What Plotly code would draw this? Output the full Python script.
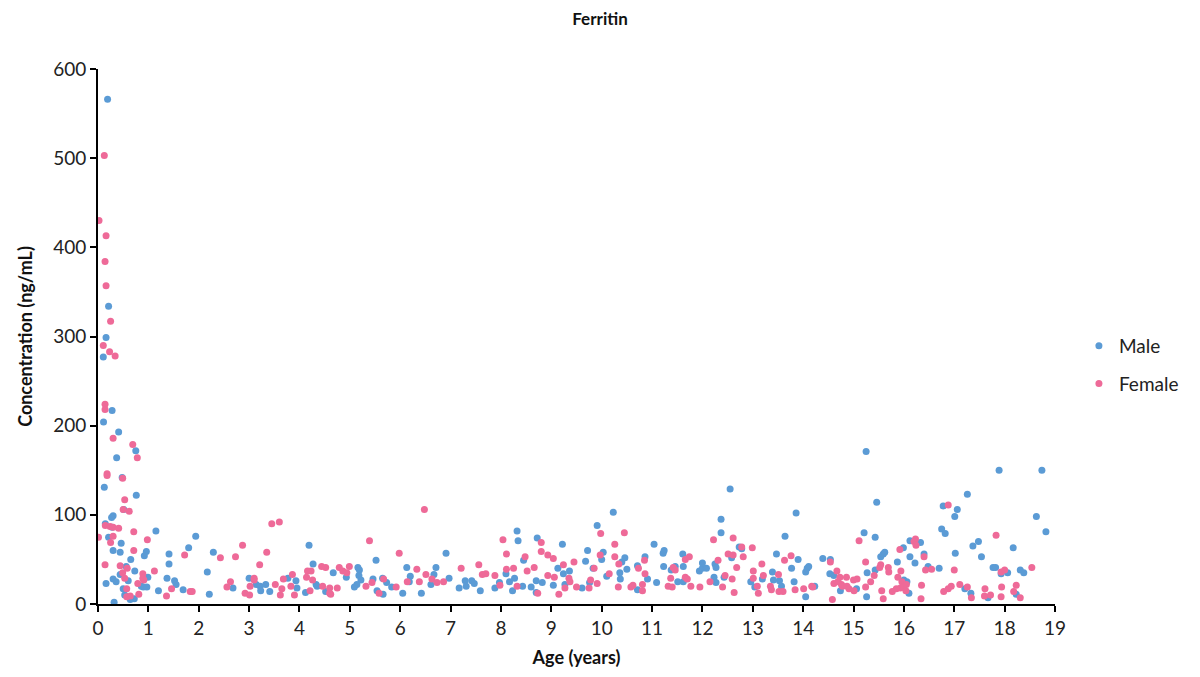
import plotly.graph_objects as go

# ---- data (age in years, concentration in ng/mL) ----
male_age = [0.19, 0.21, 0.16, 0.105, 0.28, 0.11, 0.41, 0.75, 0.37, 0.48, 0.125, 0.76, 0.51, 0.30, 0.27,
            0.145, 0.28, 1.15, 0.21, 1.94, 0.46, 1.80, 0.96, 0.30, 0.44, 1.41, 0.92, 0.65, 1.41, 0.56,
            0.73, 2.17, 0.44, 0.99, 1.37, 0.30, 0.36, 0.60, 1.52, 0.16, 1.55, 0.90, 0.86, 0.50, 0.97,
            1.20, 1.69, 2.21, 0.53, 0.72, 0.64, 0.32,
            2.29, 2.68, 3.00, 3.14, 3.22, 3.23, 3.33, 3.41, 3.77, 3.93, 3.95, 4.12, 4.19, 4.27, 4.33,
            4.35, 4.52, 4.67, 4.93, 5.16, 5.19, 5.18, 5.22, 5.14, 5.09, 5.46, 5.52, 5.54, 5.66, 5.65,
            5.73, 5.83,
            6.05, 6.13, 6.20, 6.18, 6.42, 6.61, 6.67, 6.71, 6.91, 6.97, 7.17, 7.29, 7.31, 7.42, 7.47,
            7.59, 7.88, 7.97, 8.10, 8.17, 8.27, 8.23, 8.32, 8.34, 8.43, 8.45, 8.60, 8.70, 8.70, 8.72,
            8.82, 9.04, 9.13, 9.22, 9.24, 9.36, 9.27, 9.61, 9.68, 9.72,
            9.76, 9.83, 9.91, 10.00, 10.03, 10.10, 10.23, 10.36, 10.37, 10.40, 10.46, 10.50, 10.71,
            10.71, 10.86, 10.91, 11.09, 11.04, 11.22, 11.24, 11.23, 11.38, 11.46, 11.51, 11.61, 11.62,
            11.62, 11.94, 12.00, 12.08, 12.00, 12.25, 12.27, 12.23, 12.27, 12.37, 12.37, 12.43, 12.55,
            12.58, 12.73, 12.78, 12.96, 13.04, 13.19, 13.39, 13.41, 13.47,
            13.53, 13.57, 13.64, 13.77, 13.82, 13.86, 13.90, 14.05, 14.08, 14.11, 14.05, 14.23, 14.39,
            14.54, 14.53, 14.61, 14.74, 15.06, 15.21, 15.26, 15.27, 15.43, 15.46, 15.43, 15.54, 15.59,
            15.62, 15.87, 15.99, 16.00, 16.06, 16.10, 16.12, 16.12, 16.33, 16.22, 16.40, 16.48, 16.70,
            16.75, 16.82, 16.78, 17.01, 17.06, 17.02, 17.26, 15.25,
            17.89, 18.74, 18.63, 18.82, 17.37, 17.48, 17.54, 18.17, 17.77, 17.82, 17.93, 18.06, 18.31,
            18.38, 17.21, 17.33, 17.67, 18.23]
male_conc = [566, 334, 299, 277, 217, 204, 193, 172, 164, 142, 131, 122, 106, 99, 97,
             90, 86, 82, 75, 76, 68, 63, 59, 60, 58, 56, 54, 50, 45, 42,
             37, 36, 33, 30, 29, 28, 25, 26, 26, 23, 22, 19, 20, 17, 19,
             15, 16, 11, 10, 6, 5, 2,
             58, 18, 29, 22, 20, 15, 22, 14, 29, 26, 18, 13, 66, 45, 22,
             20, 14, 35, 30, 41, 38, 32, 27, 22, 19, 28, 49, 15, 11, 29,
             24, 19,
             12, 41, 31, 25, 12, 22, 33, 41, 57, 29, 18, 26, 20, 26, 23,
             15, 18, 24, 34, 25, 29, 15, 82, 71, 20, 49, 19, 26, 13, 74,
             24, 21, 40, 67, 34, 37, 22, 18, 48, 60,
             24, 40, 88, 50, 58, 31, 103, 35, 28, 47, 52, 39, 43,
             16, 53, 28, 24, 67, 57, 60, 42, 38, 42, 25, 56, 42,
             25, 37, 40, 40, 46, 45, 41, 30, 24, 95, 80, 30, 129,
             52, 64, 62, 25, 19, 28, 36, 27, 56,
             26, 20, 76, 40, 25, 102, 50, 36, 40, 42, 8, 20, 51,
             50, 34, 32, 15, 17, 80, 8, 35, 75, 114, 38, 53, 56,
             58, 47, 63, 27, 25, 12, 71, 53, 69, 46, 56, 42, 40,
             84, 79, 110, 98, 106, 57, 123, 171,
             150, 150, 98, 81, 65, 70, 53, 63, 41, 41, 34, 35, 38,
             35, 17, 12, 7, 11]

female_age = [0.125, 0.02, 0.16, 0.14, 0.16, 0.25, 0.105, 0.23, 0.34, 0.14, 0.14, 0.30, 0.69, 0.78, 0.18,
              0.18, 0.49, 0.53, 0.50, 0.62, 0.145, 0.24, 0.30, 0.41, 0.71, 0.01, 0.30, 0.98, 0.25, 0.71,
              1.72, 0.14, 0.44, 0.58, 1.12, 0.49, 0.89, 0.53, 0.89, 0.91, 0.79, 0.57, 1.46, 1.83, 1.87,
              1.36, 0.81, 0.57, 0.64,
              2.43, 2.56, 2.63, 2.73, 2.87, 2.92, 3.01, 3.02, 3.10, 3.10, 3.21, 3.35, 3.45, 3.60, 3.52,
              3.62, 3.65, 3.68, 3.86, 3.83, 3.90, 4.21, 4.16, 4.23, 4.14, 4.26, 4.44, 4.52, 4.46, 4.60,
              4.60, 4.62, 4.75, 4.79, 4.86, 4.94, 4.99, 5.32, 5.39, 5.44, 5.58, 5.67, 5.92, 5.98,
              6.14, 6.33, 6.38, 6.48, 6.51, 6.63, 6.73, 6.86, 7.21, 7.56, 7.63, 7.70, 7.88, 7.98, 8.04,
              8.11, 8.11, 8.25, 8.32, 8.48, 8.52, 8.66, 8.73, 8.80, 8.80, 8.93, 9.04, 8.93, 9.06, 9.15,
              9.24, 9.35, 9.37, 9.27, 9.45, 9.50, 9.75,
              9.78, 9.85, 9.91, 9.98, 9.97, 10.15, 10.26, 10.26, 10.34, 10.33, 10.45, 10.58, 10.62,
              10.73, 10.81, 10.81, 10.85, 10.86, 11.32, 11.37, 11.42, 11.46, 11.40, 11.66, 11.74, 11.66,
              11.70, 11.77, 11.95, 12.15, 12.22, 12.31, 12.40, 12.45, 12.51, 12.61, 12.61, 12.59, 12.63,
              12.68, 12.78, 12.81, 12.99, 13.01, 13.01, 13.09, 13.11, 13.18, 13.21, 13.35, 13.37, 13.52,
              13.60, 13.51, 13.63, 13.76, 13.84, 14.01, 14.17, 14.19, 14.54, 14.58, 14.67, 14.61, 14.69,
              14.76, 14.73, 14.86, 14.78, 14.91, 14.87, 15.00, 15.07, 15.01, 15.11, 15.24, 15.24, 15.34,
              15.41, 15.52, 15.56, 15.59, 15.54, 15.69, 15.70, 15.77, 15.85, 15.88, 15.94, 15.92, 15.93,
              15.96, 15.99, 16.05, 16.04, 16.23, 16.20, 16.24, 16.34, 16.35, 16.40, 16.43, 16.55, 16.79,
              16.88, 16.94, 16.88, 17.00, 17.11, 17.26,
              17.83, 17.93, 18.00, 18.54, 17.34, 17.61, 17.60, 17.72, 17.94, 17.93, 18.23, 18.18, 18.31]
female_conc = [503, 430, 413, 384, 357, 317, 290, 283, 278, 224, 218, 186, 179, 164, 146,
               144, 141, 117, 106, 104, 88, 87, 86, 85, 81, 75, 76, 72, 69, 60,
               55, 44, 43, 40, 37, 35, 34, 29, 29, 27, 23, 17, 17, 14, 14,
               9, 11, 8, 9,
               52, 19, 25, 53, 66, 12, 10, 20, 29, 27, 44, 58, 90, 92, 22,
               10, 17, 28, 33, 20, 10, 15, 37, 37, 30, 27, 42, 41, 20, 18,
               12, 11, 18, 41, 37, 35, 42, 20, 71, 24, 12, 28, 19, 57,
               25, 39, 25, 106, 33, 28, 24, 25, 40, 44, 33, 34, 32, 21, 72,
               56, 39, 40, 20, 53, 37, 41, 12, 69, 59, 55, 51, 32, 30, 11,
               44, 29, 25, 18, 47, 19, 18,
               27, 40, 23, 79, 55, 34, 67, 53, 45, 19, 80, 19, 21,
               40, 22, 15, 49, 34, 20, 29, 41, 38, 19, 50, 53, 30,
               28, 20, 19, 25, 72, 49, 19, 32, 56, 55, 74, 28, 13,
               41, 64, 53, 63, 37, 29, 20, 12, 45, 32, 20, 16, 14,
               14, 33, 49, 54, 16, 17, 20, 19, 47, 5, 37, 23, 25,
               22, 30, 30, 20, 17, 20, 27, 28, 15, 71, 47, 19, 25,
               32, 41, 15, 6, 44, 41, 36, 14, 17, 30, 37, 61, 18,
               25, 19, 22, 15, 73, 70, 66, 6, 21, 53, 38, 39, 14,
               17, 20, 111, 38, 22, 19,
               77, 36, 38, 41, 7, 17, 9, 10, 19, 8, 21, 14, 7]

x_ticks = list(range(0, 20))
y_ticks = [0, 100, 200, 300, 400, 500, 600]

MALE_COLOR = "#5B9BD5"
FEMALE_COLOR = "#EE6A98"
FONT = "Lato, 'Open Sans', sans-serif"

fig = go.Figure()
fig.add_trace(go.Scatter(x=male_age, y=male_conc, mode="markers", name="Male", legendgroup="m",
                         marker=dict(color=MALE_COLOR, size=7, line=dict(width=0))))
fig.add_trace(go.Scatter(x=female_age, y=female_conc, mode="markers", name="Female", legendgroup="f",
                         marker=dict(color=FEMALE_COLOR, size=7, line=dict(width=0))))

axis_common = dict(showgrid=False, zeroline=False, showline=True, linecolor="black", linewidth=2,
                   ticks="outside", tickcolor="black", tickwidth=2, ticklen=6,
                   tickfont=dict(family=FONT, size=19, color="#222"))

fig.update_layout(
    width=1200, height=677,
    paper_bgcolor="white", plot_bgcolor="white",
    margin=dict(l=98, r=145, t=69, b=73),
    title=dict(text="<b>Ferritin</b>", x=0.5, xref="container", y=0.972, yref="container",
               xanchor="center", yanchor="middle", font=dict(family=FONT, size=17, color="#111")),
    xaxis=dict(range=[0, 19], tickvals=x_ticks, ticktext=[str(v) for v in x_ticks],
               title=dict(text="<b>Age (years)</b>", font=dict(family=FONT, size=18, color="#111"), standoff=14),
               **axis_common),
    yaxis=dict(range=[0, 600], tickvals=y_ticks, ticktext=[str(v) for v in y_ticks],
               title=dict(text="<b>Concentration (ng/mL)</b>", font=dict(family=FONT, size=18, color="#111"), standoff=16),
               **axis_common),
    legend=dict(x=1.025, y=0.447, xref="paper", yref="paper", xanchor="left", yanchor="middle",
                font=dict(family=FONT, size=19, color="#222"), itemsizing="trace",
                tracegroupgap=10, bgcolor="rgba(0,0,0,0)"),
    showlegend=True,
)

fig.write_html("out.html", config={"displayModeBar": False},
               post_script="document.body.style.margin='0';document.body.style.overflow='hidden';")
